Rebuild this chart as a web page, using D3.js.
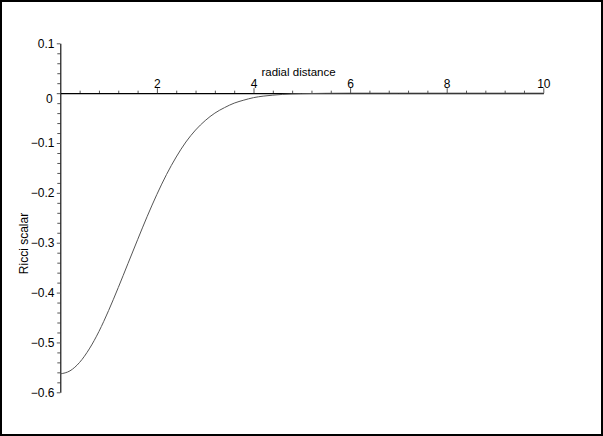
<!DOCTYPE html>
<html>
<head>
<meta charset="utf-8">
<script src="https://cdn.jsdelivr.net/npm/d3@7"></script>
<style>
  html, body { margin: 0; padding: 0; background: #fff; }
  svg { display: block; }
  text { font-family: "Liberation Sans", Arial, Helvetica, sans-serif; fill: #000; }
</style>
</head>
<body>
<svg id="chart" width="603" height="436"></svg>
<script>
// Data
const radialDistance = [0, 0.2, 0.4, 0.6, 0.8, 1.0, 1.2, 1.4, 1.6, 1.8, 2.0, 2.2, 2.4, 2.6, 2.8, 3.0, 3.2, 3.4, 3.6, 3.8, 4.0, 4.2, 4.4, 4.6, 4.8, 5.0, 5.5, 6, 7, 8, 9, 10];
const ricciScalar    = [-0.563, -0.557, -0.540, -0.513, -0.478, -0.436, -0.390, -0.342, -0.294, -0.247, -0.203, -0.163, -0.128, -0.098, -0.074, -0.055, -0.040, -0.029, -0.020, -0.014, -0.009, -0.006, -0.004, -0.0025, -0.0015, -0.001, -0.0003, 0, 0, 0, 0, 0];
const xTickLabels = [2, 4, 6, 8, 10];
const yTickLabels = [0.1, 0, -0.1, -0.2, -0.3, -0.4, -0.5, -0.6];
const xTitle = "radial distance";
const yTitle = "Ricci scalar";

const svg = d3.select("#chart");

// frame
svg.append("rect")
  .attr("x", 1).attr("y", 1).attr("width", 601).attr("height", 434)
  .attr("fill", "none").attr("stroke", "#000").attr("stroke-width", 2);

const x = d3.scaleLinear().domain([0, 10]).range([60.3, 543.3]);
const y = d3.scaleLinear().domain([-0.6, 0.1]).range([392.3, 43.3]);

const xMinor = d3.range(0, 10.001, 0.4).map(v => +v.toFixed(2)).filter(v => v % 2 !== 0 && v !== 0);
const yMinor = d3.range(-0.6, 0.1001, 0.02).map(v => +v.toFixed(2)).filter(v => Math.abs(Math.round(v * 10) - v * 10) > 1e-6);

// x minor ticks
svg.append("g")
  .attr("transform", `translate(0,${y(0)})`)
  .call(d3.axisTop(x).tickValues(xMinor).tickSize(2.5).tickFormat(""))
  .call(g => g.select(".domain").remove())
  .call(g => g.selectAll("line").attr("stroke", "#555"));

// x major axis
svg.append("g")
  .attr("transform", `translate(0,${y(0)})`)
  .call(d3.axisTop(x).tickValues(xTickLabels).tickSize(5).tickSizeOuter(0).tickPadding(0.6).tickFormat(d3.format("d")))
  .call(g => g.select(".domain").attr("stroke", "#000").attr("stroke-width", 1.1))
  .call(g => g.selectAll(".tick line").attr("stroke", "#555"))
  .call(g => g.selectAll("text").style("font-size", "12px").attr("fill", "#000"));

// y minor ticks
svg.append("g")
  .attr("transform", `translate(${x(0)},0)`)
  .call(d3.axisLeft(y).tickValues(yMinor).tickSize(3).tickFormat(""))
  .call(g => g.select(".domain").remove())
  .call(g => g.selectAll("line").attr("stroke", "#555"));

// y major axis
svg.append("g")
  .attr("transform", `translate(${x(0)},0)`)
  .call(d3.axisLeft(y).tickValues(yTickLabels).tickSize(3.5).tickSizeOuter(0).tickPadding(2.3)
    .tickFormat(d => d === 0 ? "0" : d3.format(".1f")(d)))
  .call(g => g.select(".domain").attr("stroke", "#000").attr("stroke-width", 1.1))
  .call(g => g.selectAll(".tick line").attr("stroke", "#555"))
  .call(g => g.selectAll("text").style("font-size", "12px").attr("fill", "#000"))
  .call(g => g.selectAll(".tick").filter(d => d === 0).select("text").attr("dy", "0.8em").attr("x", -7.5));

// curve
const line = d3.line()
  .x((d, i) => x(radialDistance[i]))
  .y(d => y(d))
  .curve(d3.curveMonotoneX);

svg.append("path")
  .datum(ricciScalar)
  .attr("d", line)
  .attr("fill", "none")
  .attr("stroke", "#555")
  .attr("stroke-width", 1);

// axis titles
svg.append("text")
  .attr("x", 298.5).attr("y", 75.5)
  .attr("text-anchor", "middle")
  .style("font-size", "11.5px")
  .text(xTitle);

svg.append("text")
  .attr("transform", "translate(27.5,243.5) rotate(-90)")
  .attr("text-anchor", "middle")
  .style("font-size", "12px")
  .text(yTitle);
</script>
</body>
</html>
